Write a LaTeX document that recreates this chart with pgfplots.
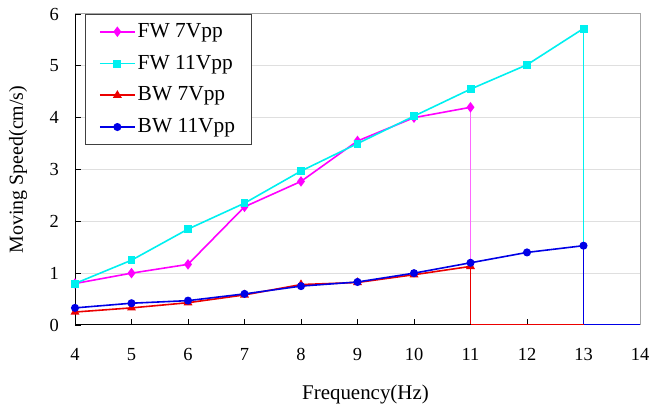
\documentclass[border=0pt]{standalone}
\usepackage{fontspec}
\setmainfont{Liberation Serif}
\usepackage{pgfplots}
\pgfplotsset{compat=1.18}
\definecolor{fwseven}{RGB}{255,0,255}
\definecolor{fweleven}{RGB}{0,240,240}
\definecolor{bwseven}{RGB}{235,0,0}
\definecolor{bweleven}{RGB}{0,0,230}
\begin{document}
\fontsize{18}{22}\selectfont
\begin{tikzpicture}
\begin{axis}[
    scale only axis,
    width=565bp, height=311bp,
    xmin=4, xmax=14, ymin=0, ymax=6,
    xtick={4,...,14}, ytick={0,...,6},
    xtick pos=bottom, ytick pos=left,
    tick align=inside,
    major tick length=6bp,
    tick style={black, line width=0.8pt},
    ymajorgrids,
    grid style={gray!25, line width=1pt},
    axis line style={gray!70, line width=1pt},
    /pgf/number format/assume math mode=true,
    ticklabel style={font=\fontsize{18.5}{22}\selectfont},
    xticklabel style={yshift=-17bp},
    yticklabel style={xshift=-10bp},
    xlabel={Frequency(Hz)},
    ylabel={Moving Speed(cm/s)},
    every axis x label/.style={at={(rel axis cs:0.5,0)}, anchor=center,
        xshift=8bp, yshift=-70bp, font=\fontsize{21}{25}\selectfont},
    every axis y label/.style={at={(rel axis cs:0,0.5)}, anchor=center,
        xshift=-57bp, rotate=90, font=\fontsize{20}{24}\selectfont},
    legend cell align=left,
    legend style={at={(rel axis cs:0.017,1)}, anchor=north west,
        draw=black!75, line width=0.8pt, row sep=11bp,
        inner xsep=14bp, inner ysep=7bp,
        font=\fontsize{21.5}{25}\selectfont},
    legend image code/.code={
        \draw[mark repeat=2,mark phase=2,#1]
        plot coordinates {(0cm,0cm) (0.62cm,0cm) (1.24cm,0cm)};},
]
% FW 7Vpp
\addplot[color=fwseven, line width=1.6pt, mark=diamond*, mark size=4bp]
    coordinates {(4,0.80) (5,1.00) (6,1.17) (7,2.28) (8,2.77) (9,3.55) (10,4.00) (11,4.20)};
% FW 11Vpp
\addplot[color=fweleven, line width=1.6pt, mark=square*, mark size=3.2bp]
    coordinates {(4,0.80) (5,1.25) (6,1.85) (7,2.35) (8,2.97) (9,3.50) (10,4.03) (11,4.55) (12,5.02) (13,5.72)};
% BW 7Vpp
\addplot[color=bwseven, line width=1.6pt, mark=triangle*, mark size=3.6bp]
    coordinates {(4,0.25) (5,0.33) (6,0.43) (7,0.58) (8,0.78) (9,0.82) (10,0.97) (11,1.13)};
% BW 11Vpp
\addplot[color=bweleven, line width=1.6pt, mark=*, mark size=3.2bp]
    coordinates {(4,0.33) (5,0.42) (6,0.47) (7,0.60) (8,0.75) (9,0.83) (10,1.00) (11,1.20) (12,1.40) (13,1.53)};
\legend{FW 7Vpp, FW 11Vpp, BW 7Vpp, BW 11Vpp}
% drop-off segments
\addplot[color=fwseven!60, line width=1pt, forget plot] coordinates {(11,4.20) (11,0)};
\addplot[color=fweleven, line width=1pt, forget plot] coordinates {(13,5.72) (13,0)};
\addplot[color=bwseven, line width=1pt, forget plot] coordinates {(11,1.13) (11,0)};
\addplot[color=bweleven, line width=1pt, forget plot] coordinates {(13,1.53) (13,0)};
% black left and bottom axis lines
\draw[black, line width=1pt] (rel axis cs:0,1) -- (rel axis cs:0,0) -- (rel axis cs:0.7,0);
\addplot[color=bwseven, line width=1.8pt, forget plot] coordinates {(11,0) (13,0)};
\addplot[color=bweleven, line width=1.8pt, forget plot] coordinates {(13,0) (14,0)};
\end{axis}
\pgfresetboundingbox
\path ([xshift=-75bp,yshift=14bp]current axis.north west) rectangle ([xshift=10bp,yshift=-94bp]current axis.south east);
\end{tikzpicture}
\end{document}
